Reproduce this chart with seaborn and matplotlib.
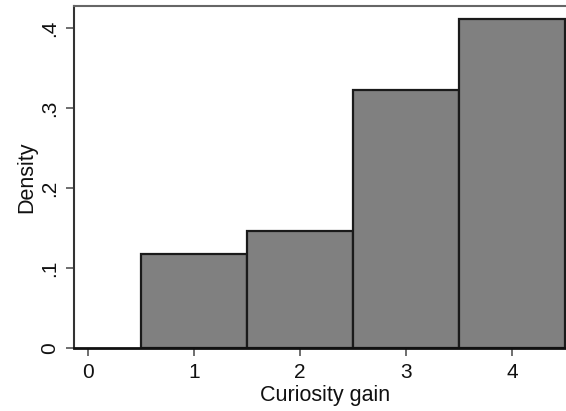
import matplotlib
matplotlib.use("Agg")
import matplotlib.pyplot as plt
import seaborn as sns
import pandas as pd

values = [1, 2, 3, 4]
densities = [0.117, 0.146, 0.322, 0.411]
x_ticks = [0, 1, 2, 3, 4]
y_ticks = [0, 0.1, 0.2, 0.3, 0.4]
y_tick_labels = ["0", ".1", ".2", ".3", ".4"]

sns.set_style("white")
plt.rcParams['font.family'] = ['Liberation Sans', 'DejaVu Sans']

df = pd.DataFrame({"gain": values, "density": densities})

W, H = 566, 411
fig = plt.figure(figsize=(W / 100, H / 100), dpi=100)
ax = fig.add_axes([74 / W, (H - 348) / H, (576 - 74) / W, (348 - 6) / H])

sns.histplot(data=df, x="gain", weights="density", discrete=True, stat="count",
             color="#808080", alpha=1, edgecolor="#1a1a1a", linewidth=1.6, ax=ax)

ax.set_xlim(-0.132, 4.604)
ax.set_ylim(0, 0.4275)
ax.set_xticks(x_ticks)
ax.set_yticks(y_ticks)
ax.set_yticklabels(y_tick_labels, rotation=90, va="center")
ax.tick_params(axis="both", which="both", direction="out", length=6, width=1.2,
               color="#555555", labelsize=15, pad=5, labelcolor="#111111",
               left=True, bottom=True)
ax.set_xlabel("Curiosity gain", fontsize=15.5, labelpad=2, color="#111111")
ax.set_ylabel("Density", fontsize=15.5, labelpad=2, color="#111111")

for s in ["left", "bottom", "top", "right"]:
    ax.spines[s].set_visible(True)
ax.spines["left"].set_color("#333333")
ax.spines["left"].set_linewidth(1.5)
ax.spines["bottom"].set_color("#111111")
ax.spines["bottom"].set_linewidth(2)
ax.spines["top"].set_color("#666666")
ax.spines["top"].set_linewidth(1.5)
ax.spines["right"].set_visible(False)

fig.savefig("out.png", dpi=100)
